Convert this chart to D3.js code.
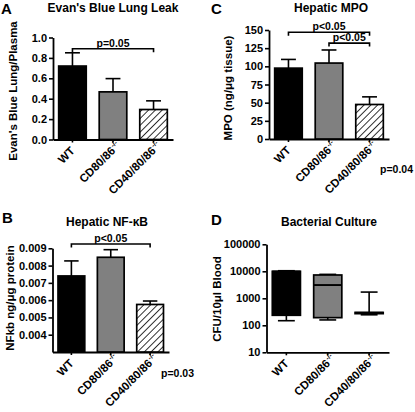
<!DOCTYPE html>
<html>
<head>
<meta charset="utf-8">
<script src="https://cdn.jsdelivr.net/npm/d3@7"></script>
<style>
  html, body { margin: 0; padding: 0; background: #fff; }
  svg text { font-family: "Liberation Sans", Arial, sans-serif; font-weight: bold; fill: #000; }
</style>
</head>
<body>
<svg id="chart" width="415" height="412"></svg>
<script>
// ---------- DATA ----------
const groups = ["WT", "CD80/86", "CD40/80/86"];
const groupSup = ["", "-/-", "-/-"];

const evansMean = [0.72, 0.467, 0.294];
const evansErr  = [0.13, 0.13, 0.085];
const evansTicks = [0, 0.2, 0.4, 0.6, 0.8, 1.0];

const mpoMean = [97.5, 104.5, 47.5];
const mpoErr  = [12, 18, 10.5];
const mpoTicks = [0, 25, 50, 75, 100, 125, 150];

const nfkbMean = [0.0074, 0.00848, 0.00575];
const nfkbErr  = [0.00087, 0.00044, 0.0002];
const nfkbTicks = [0.004, 0.005, 0.006, 0.007, 0.008, 0.009];

const cfuMin = [148, 158, 245];
const cfuQ1  = [235, 192, 270];
const cfuMed = [9800, 3100, 290];
const cfuQ3  = [10000, 7300, 300];
const cfuMax = [10500, 7700, 1700];
const cfuTicks = [10, 100, 1000, 10000, 100000];

const fills = ["#000000", "#808080", "url(#hatch)"];

// ---------- SETUP ----------
const svg = d3.select("#chart");
const defs = svg.append("defs");
defs.append("pattern")
  .attr("id", "hatch").attr("patternUnits", "userSpaceOnUse")
  .attr("width", 4.8).attr("height", 4.8)
  .attr("patternTransform", "rotate(45)")
  .call(p => {
    p.append("rect").attr("width", 4.8).attr("height", 4.8).attr("fill", "#fff");
    p.append("line").attr("x1", 0).attr("y1", 0).attr("x2", 0).attr("y2", 4.8)
      .attr("stroke", "#000").attr("stroke-width", 1.6);
  });

const TICK_FS = 11, TITLE_FS = 12, AXT_FS = 11.5, XL_FS = 11.5, P_FS = 10.5;

function styleAxis(g) {
  g.selectAll("path.domain").attr("stroke", "#000").attr("stroke-width", 1.8);
  g.selectAll(".tick line").attr("stroke", "#000").attr("stroke-width", 1.6);
  g.selectAll(".tick text").attr("font-size", TICK_FS)
    .attr("font-family", '"Liberation Sans", Arial, sans-serif').attr("font-weight", "bold");
}

function panelFrame(cfg, y) {
  const x = d3.scaleBand().domain(groups).range([cfg.x0, cfg.x1])
    .paddingInner(0.32).paddingOuter(0.14);
  const ya = svg.append("g").attr("transform", `translate(${cfg.x0},0)`)
    .call(d3.axisLeft(y).tickValues(cfg.ticks).tickFormat(cfg.fmt)
      .tickSize(4).tickSizeOuter(0).tickPadding(2));
  styleAxis(ya);
  const xa = svg.append("g").attr("transform", `translate(0,${cfg.yBottom})`)
    .call(d3.axisBottom(x).tickFormat("").tickSize(3).tickSizeOuter(0));
  styleAxis(xa);
  groups.forEach((gname, i) => {
    const cx = x(gname) + x.bandwidth() / 2;
    const lg = svg.append("g")
      .attr("transform", `translate(${cx + 3},${cfg.yBottom + 12}) rotate(-45)`);
    lg.append("text").attr("text-anchor", "end").attr("font-size", XL_FS).text(gname);
    if (groupSup[i]) {
      lg.append("text").attr("x", 0.5).attr("y", -4.5).attr("font-size", 7).text(groupSup[i]);
    }
  });
  svg.append("text").attr("x", cfg.titleX).attr("y", cfg.titleY)
    .attr("text-anchor", "middle").attr("font-size", TITLE_FS).text(cfg.title);
  svg.append("text").attr("x", cfg.letterX).attr("y", cfg.letterY)
    .attr("font-size", 15).text(cfg.letter);
  svg.append("text")
    .attr("transform", `translate(${cfg.ytX},${cfg.ytY}) rotate(-90)`)
    .attr("text-anchor", "middle").attr("font-size", AXT_FS).text(cfg.yTitle);
  return x;
}

function barPanel(cfg) {
  const y = d3.scaleLinear().domain(cfg.domain).range([cfg.yBottom, cfg.yTop]);
  const x = panelFrame(cfg, y);
  const bw = x.bandwidth();
  groups.forEach((gname, i) => {
    const cx = x(gname) + bw / 2;
    svg.append("line").attr("x1", cx).attr("x2", cx)
      .attr("y1", y(cfg.mean[i])).attr("y2", y(cfg.mean[i] + cfg.err[i]))
      .attr("stroke", "#000").attr("stroke-width", 1.6);
    svg.append("line").attr("x1", cx - bw * 0.27).attr("x2", cx + bw * 0.27)
      .attr("y1", y(cfg.mean[i] + cfg.err[i])).attr("y2", y(cfg.mean[i] + cfg.err[i]))
      .attr("stroke", "#000").attr("stroke-width", 1.6);
    svg.append("rect").attr("x", x(gname)).attr("width", bw)
      .attr("y", y(cfg.mean[i])).attr("height", y(cfg.domain[0]) - y(cfg.mean[i]))
      .attr("fill", fills[i]).attr("stroke", "#000").attr("stroke-width", 1.7);
  });
  (cfg.brackets || []).forEach(b => {
    const xa = x(groups[b.from]) + bw / 2, xb = x(groups[b.to]) + bw / 2;
    const yy = y(b.level);
    svg.append("path").attr("d", `M${xa},${yy + 3.5}V${yy}H${xb}V${yy + 3.5}`)
      .attr("fill", "none").attr("stroke", "#000").attr("stroke-width", 1.6);
    svg.append("text").attr("x", (xa + xb) / 2 + (b.dx || 0)).attr("y", yy - 2)
      .attr("text-anchor", "middle").attr("font-size", P_FS).text(b.label);
  });
  if (cfg.pNote) {
    svg.append("text").attr("x", cfg.pNote.x).attr("y", cfg.pNote.y)
      .attr("text-anchor", "end").attr("font-size", P_FS).text(cfg.pNote.text);
  }
}

// Panel A
barPanel({
  letter: "A", letterX: 1, letterY: 14,
  title: "Evan's Blue Lung Leak", titleX: 113, titleY: 12,
  yTitle: "Evan's Blue Lung/Plasma", ytX: 17, ytY: 91,
  x0: 53, x1: 173, yTop: 37.5, yBottom: 139.5,
  domain: [0, 1], ticks: evansTicks, fmt: d3.format(".1f"),
  mean: evansMean, err: evansErr,
  brackets: [{ from: 0, to: 2, level: 0.89, label: "p=0.05" }]
});

// Panel C
barPanel({
  letter: "C", letterX: 211, letterY: 14,
  title: "Hepatic MPO", titleX: 331, titleY: 12,
  yTitle: "MPO (ng/μg tissue)", ytX: 232, ytY: 88,
  x0: 269, x1: 389, yTop: 30, yBottom: 139,
  domain: [0, 150], ticks: mpoTicks, fmt: d3.format("d"),
  mean: mpoMean, err: mpoErr,
  brackets: [
    { from: 0, to: 2, level: 147, label: "p<0.05" },
    { from: 1, to: 2, level: 132, label: "p<0.05", dx: 0 }
  ],
  pNote: { x: 413, y: 173, text: "p=0.04" }
});

// Panel B
barPanel({
  letter: "B", letterX: 2, letterY: 223,
  title: "Hepatic NF-κB", titleX: 107, titleY: 226,
  yTitle: "NFkb ng/μg protein", ytX: 14, ytY: 298,
  x0: 52.5, x1: 169, yTop: 248.3, yBottom: 352,
  domain: [0.003, 0.009], ticks: nfkbTicks, fmt: d3.format(".3f"),
  mean: nfkbMean, err: nfkbErr,
  brackets: [{ from: 0, to: 2, level: 0.00925, label: "p<0.05" }],
  pNote: { x: 194, y: 377, text: "p=0.03" }
});

// Panel D (box plot, log scale)
(function () {
  const cfg = {
    letter: "D", letterX: 211, letterY: 225,
    title: "Bacterial Culture", titleX: 329, titleY: 226,
    yTitle: "CFU/10μl Blood", ytX: 221, ytY: 299,
    x0: 266.5, x1: 389, yTop: 244.3, yBottom: 352.3,
    ticks: cfuTicks, fmt: d3.format("d")
  };
  const y = d3.scaleLog().domain([10, 100000]).range([cfg.yBottom, cfg.yTop]);
  const x = panelFrame(cfg, y);
  const bw = x.bandwidth();
  groups.forEach((gname, i) => {
    const cx = x(gname) + bw / 2;
    const x0 = x(gname);
    const capW = bw * 0.3;
    svg.append("line").attr("x1", cx).attr("x2", cx)
      .attr("y1", y(cfuMax[i])).attr("y2", y(cfuMin[i]))
      .attr("stroke", "#000").attr("stroke-width", 1.6);
    [cfuMin[i], cfuMax[i]].forEach(v => {
      svg.append("line").attr("x1", cx - capW).attr("x2", cx + capW)
        .attr("y1", y(v)).attr("y2", y(v)).attr("stroke", "#000").attr("stroke-width", 1.6);
    });
    svg.append("rect").attr("x", x0).attr("width", bw)
      .attr("y", y(cfuQ3[i])).attr("height", y(cfuQ1[i]) - y(cfuQ3[i]))
      .attr("fill", i === 2 ? "#fff" : fills[i]).attr("stroke", "#000").attr("stroke-width", 1.7);
    svg.append("line").attr("x1", x0).attr("x2", x0 + bw)
      .attr("y1", y(cfuMed[i])).attr("y2", y(cfuMed[i]))
      .attr("stroke", "#000").attr("stroke-width", 1.9);
  });
})();
</script>
</body>
</html>
